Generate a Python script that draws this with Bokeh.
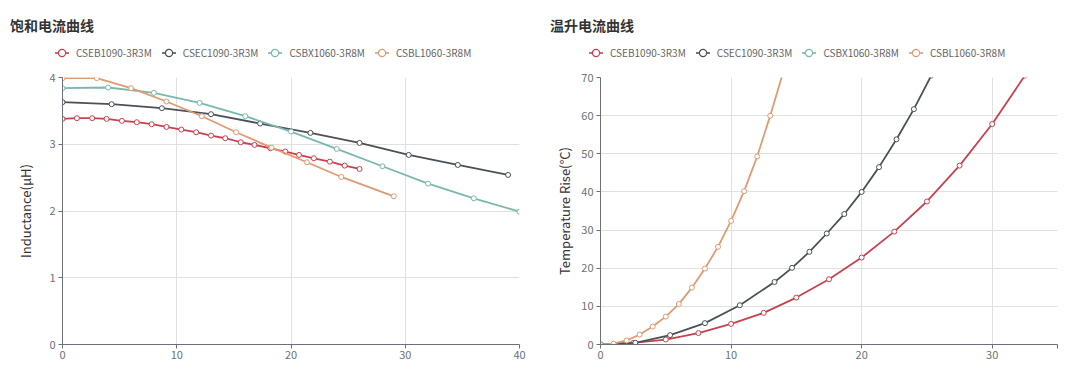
from bokeh.plotting import figure
from bokeh.models import Range1d, FixedTicker, Div
from bokeh.layouts import row, column
from bokeh.embed import file_html
from bokeh.resources import INLINE

series_names = ["CSEB1090-3R3M", "CSEC1090-3R3M", "CSBX1060-3R8M", "CSBL1060-3R8M"]
colors = ["#c8414f", "#4b5156", "#7ab8ad", "#e09a72"]

# ---- Saturation current curve (inductance vs current) ----
sat_eb_x = [0, 1.26, 2.6, 3.86, 5.2, 6.5, 7.8, 9.1, 10.4, 11.7, 13, 14.25, 15.6, 16.8, 18.2, 19.5, 20.7, 22, 23.4, 24.7, 26]
sat_eb_y = [3.38, 3.39, 3.39, 3.38, 3.35, 3.33, 3.30, 3.26, 3.22, 3.18, 3.13, 3.09, 3.03, 2.99, 2.94, 2.89, 2.84, 2.79, 2.74, 2.68, 2.63]
sat_ec_x = [0, 4.3, 8.7, 13, 17.3, 21.7, 26, 30.3, 34.6, 39]
sat_ec_y = [3.63, 3.60, 3.54, 3.45, 3.31, 3.17, 3.02, 2.84, 2.69, 2.54]
sat_bx_x = [0, 4, 8, 12, 16, 20, 24, 28, 32, 36, 40]
sat_bx_y = [3.84, 3.85, 3.77, 3.62, 3.42, 3.19, 2.93, 2.67, 2.41, 2.19, 1.99]
sat_bl_x = [0, 3, 6, 9.1, 12.2, 15.2, 18.3, 21.4, 24.4, 29]
sat_bl_y = [3.99, 3.99, 3.84, 3.64, 3.42, 3.18, 2.95, 2.73, 2.51, 2.22]

# ---- Temperature rise curve ----
tr_eb_x = [0, 2.5, 5, 7.5, 10, 12.5, 15, 17.5, 20, 22.5, 25, 27.5, 30, 32.5]
tr_eb_y = [0, 0.4, 1.3, 3.0, 5.4, 8.3, 12.3, 17.1, 22.8, 29.6, 37.5, 46.9, 57.8, 70.5]
tr_ec_x = [0, 2.67, 5.33, 8, 10.67, 13.33, 14.67, 16, 17.33, 18.67, 20, 21.33, 22.67, 24, 25.33]
tr_ec_y = [0, 0.44, 2.46, 5.6, 10.3, 16.4, 20.1, 24.3, 29.1, 34.2, 40.0, 46.5, 53.8, 61.7, 70.5]
tr_bx_x = []   # this series has no data in the temperature chart (legend only)
tr_bx_y = []
tr_bl_x = [0, 1, 2, 3, 4, 5, 6, 7, 8, 9, 10, 11, 12, 13, 14]
tr_bl_y = [0, 0.2, 1.05, 2.6, 4.7, 7.3, 10.6, 14.9, 19.9, 25.6, 32.4, 40.2, 49.3, 60.0, 71.5]

sat_x_ticks = [0, 10, 20, 30, 40]
sat_y_ticks = [0, 1, 2, 3, 4]
tr_x_ticks = [0, 10, 20, 30, 35]
tr_y_ticks = [0, 10, 20, 30, 40, 50, 60, 70]

FONT = "Noto Sans CJK SC"
HEAD_H = 69
W = 540


def make_header(title, legend_left):
    items = ""
    for name, c in zip(series_names, colors):
        items += (
            '<span style="display:inline-flex;align-items:center;margin-right:10px;">'
            '<svg width="14" height="10" style="display:block">'
            f'<line x1="0" y1="5" x2="14" y2="5" stroke="{c}" stroke-width="1.6"/>'
            f'<circle cx="7" cy="5" r="3.6" fill="white" stroke="{c}" stroke-width="1.2"/>'
            '</svg>'
            f'<span style="margin-left:7px;font-size:10px;color:#666666;">{name}</span>'
            '</span>'
        )
    html = (
        f'<div style="position:relative;width:{W}px;height:{HEAD_H}px;font-family:\'{FONT}\';">'
        f'<div style="position:absolute;left:10px;top:15px;font-size:14px;font-weight:bold;'
        f'color:#333333;line-height:20px;white-space:nowrap;">{title}</div>'
        f'<div style="position:absolute;left:{legend_left}px;top:46px;line-height:14px;'
        f'white-space:nowrap;display:flex;align-items:center;">{items}</div>'
        '</div>'
    )
    return Div(text=html, width=W, height=HEAD_H, margin=(0, 0, 0, 0))


def make_fig(xs, ys, x_end, y_end, xt, yt, ylabel, bl, br, label_standoff, hide_labels=None):
    p = figure(frame_width=457, frame_height=267, output_backend="svg", toolbar_location=None,
               x_range=Range1d(0, x_end), y_range=Range1d(0, y_end),
               min_border_left=bl, min_border_right=br, min_border_top=8, min_border_bottom=38)
    p.outline_line_color = None
    for ax in (p.xaxis[0], p.yaxis[0]):
        ax.axis_line_color = "#6e7079"
        ax.major_tick_line_color = "#6e7079"
        ax.major_tick_out = 4
        ax.major_tick_in = 0
        ax.minor_tick_line_color = None
        ax.major_label_text_font = FONT
        ax.major_label_text_font_size = "11px"
        ax.major_label_text_color = "#6e7079"
    p.xaxis[0].major_label_standoff = 2
    p.yaxis[0].major_label_standoff = 3
    p.xaxis[0].ticker = FixedTicker(ticks=xt)
    p.yaxis[0].ticker = FixedTicker(ticks=yt)
    if hide_labels:
        p.xaxis[0].major_label_overrides = hide_labels
    p.yaxis[0].axis_label = ylabel
    p.yaxis[0].axis_label_text_font = FONT
    p.yaxis[0].axis_label_text_font_size = "13px"
    p.yaxis[0].axis_label_text_font_style = "normal"
    p.yaxis[0].axis_label_text_color = "#333333"
    p.yaxis[0].axis_label_standoff = label_standoff

    p.xgrid.grid_line_color = "#e0e0e0"
    p.ygrid.grid_line_color = "#e0e0e0"
    p.xgrid.ticker = FixedTicker(ticks=xt)
    p.ygrid.ticker = FixedTicker(ticks=yt)

    for c, x, y in zip(colors, xs, ys):
        if len(x) == 0:
            continue
        p.line(x, y, line_color=c, line_width=1.8)
        p.scatter(x, y, size=5, marker="circle", line_color=c, fill_color="white", line_width=1)
    return p


left = make_fig([sat_eb_x, sat_ec_x, sat_bx_x, sat_bl_x], [sat_eb_y, sat_ec_y, sat_bx_y, sat_bl_y],
                40, 4, sat_x_ticks, sat_y_ticks, "Inductance(μH)", 62, 21, 11)
right = make_fig([tr_eb_x, tr_ec_x, tr_bx_x, tr_bl_x], [tr_eb_y, tr_ec_y, tr_bx_y, tr_bl_y],
                 35, 70, tr_x_ticks, tr_y_ticks, "Temperature Rise(°C)", 60, 23, 4,
                 hide_labels={35: ""})

layout = row(column(make_header("饱和电流曲线", 55), left, spacing=0),
             column(make_header("温升电流曲线", 49), right, spacing=0), spacing=0)
open("out.html", "w").write(file_html(layout, INLINE))
